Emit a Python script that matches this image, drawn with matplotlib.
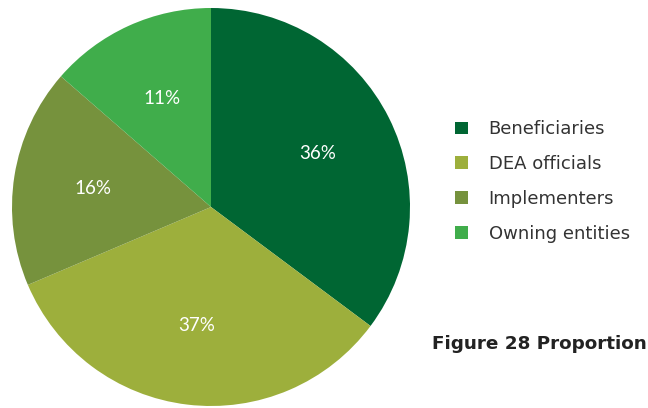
import matplotlib
matplotlib.use("Agg")
import matplotlib.pyplot as plt

# stakeholder groups and their shares (wedge sizes)
categories = ["Beneficiaries", "DEA officials", "Implementers", "Owning entities"]
shares = [35.2, 33.4, 17.8, 13.6]
pct_labels = ["36%", "37%", "16%", "11%"]
colors = ["#006633", "#9DAF3C", "#76923D", "#40AD4B"]

plt.rcParams["font.family"] = ["DejaVu Sans"]

fig = plt.figure(figsize=(6.48, 4.08), dpi=100)
ax = fig.add_axes([12 / 648, 2 / 408, 398 / 648, 398 / 408])

wedges, texts = ax.pie(shares, colors=colors, startangle=90, counterclock=False,
                       labels=pct_labels, labeldistance=0.6,
                       wedgeprops=dict(linewidth=0),
                       textprops=dict(color="white", fontsize=13.5, family="Lato"))
for t in texts:
    t.set_horizontalalignment("center")
    t.set_verticalalignment("center")
ax.set_xlim(-1, 1)
ax.set_ylim(-1, 1)
ax.set_aspect("equal")

fig.legend(wedges, categories, loc="upper left", bbox_to_anchor=(439 / 648, 1 - 104 / 408),
           frameon=False, fontsize=13, handlelength=0.7, handleheight=0.7,
           handletextpad=1.15, labelspacing=0.93, labelcolor="#333333")

fig.text(432 / 648, 1 - 349 / 408, "Figure 28 Proportion",
         fontsize=13.2, fontweight="bold", color="#222222", ha="left", va="baseline")

fig.savefig("out.png", dpi=100)
